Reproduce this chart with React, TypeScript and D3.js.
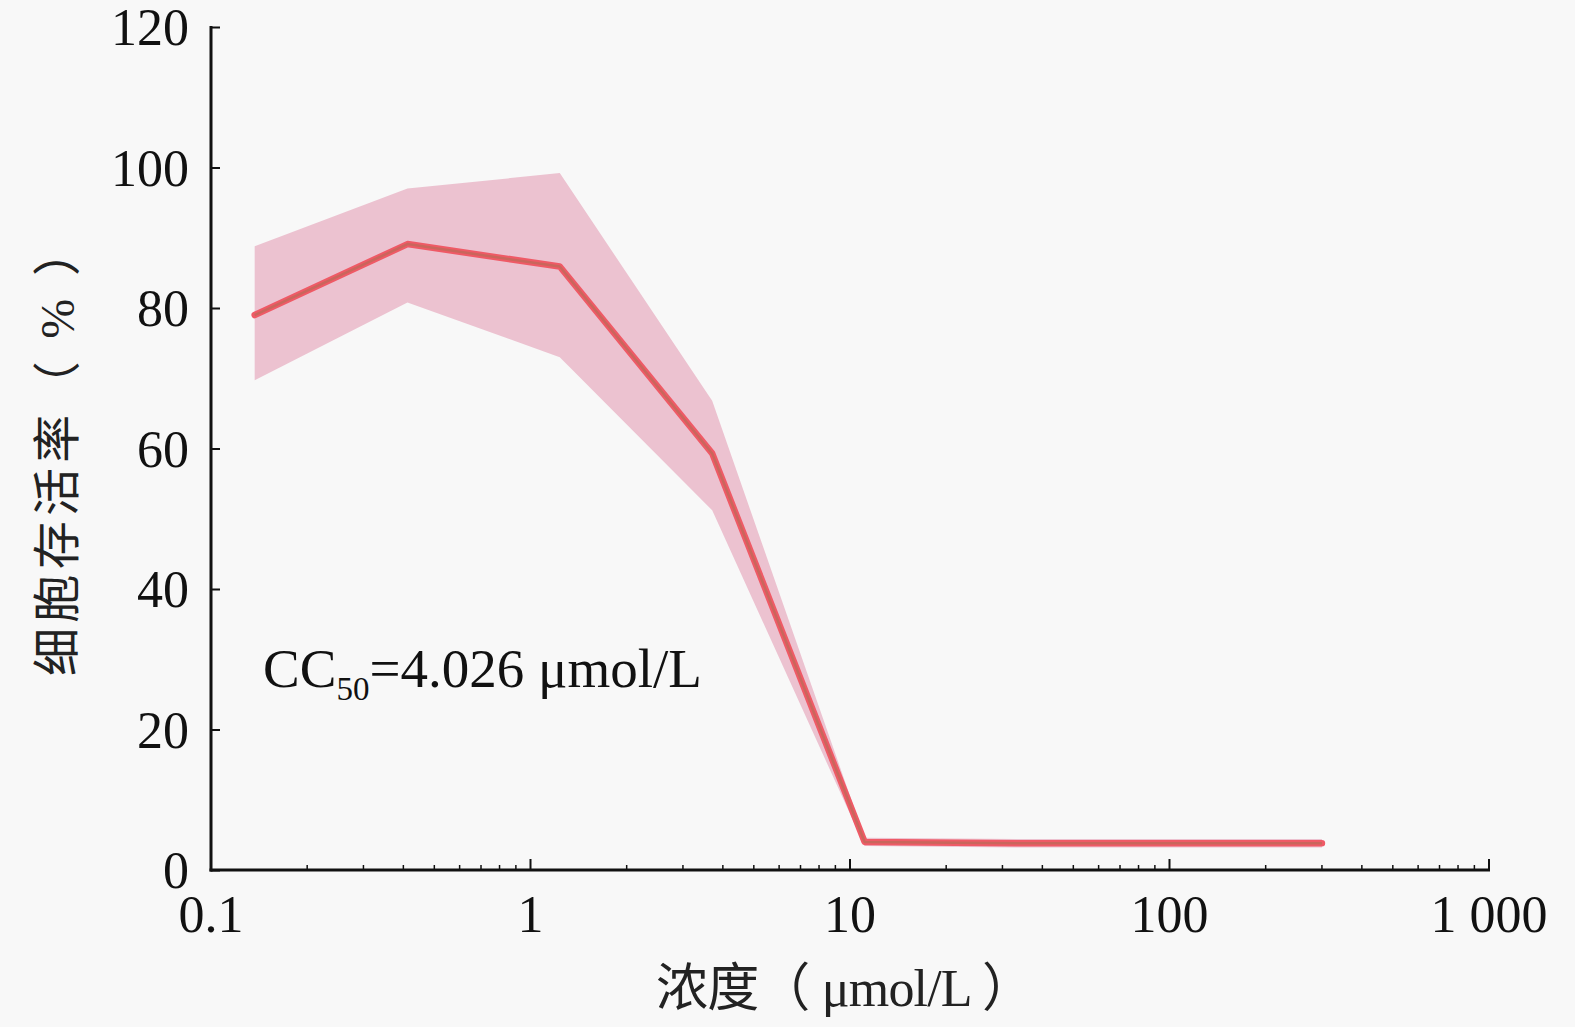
import React, { useRef, useEffect } from "react";
import * as d3 from "d3";

// concentrations (µmol/L), 3-fold dilution series
const concentrations = [0.137, 0.412, 1.235, 3.704, 11.11, 33.33, 100, 300];
const viability = [79.0, 89.1, 85.9, 59.3, 4.0, 3.8, 3.8, 3.8];
const upperBound = [88.8, 97.0, 99.2, 66.8, 4.6, 4.4, 4.4, 4.4];
const lowerBound = [69.7, 80.8, 73.0, 51.2, 3.4, 3.2, 3.2, 3.2];

const xTickValues = [0.1, 1, 10, 100, 1000];
const xTickLabels = ["0.1", "1", "10", "100", "1 000"];
const yTickValues = [0, 20, 40, 60, 80, 100, 120];

const WIDTH = 1575;
const HEIGHT = 1027;
const SERIF = "'Liberation Serif', 'Times New Roman', 'Noto Sans CJK SC', serif";

const App: React.FC = () => {
  const svgRef = useRef<SVGSVGElement>(null);

  useEffect(() => {
    const svg = d3.select(svgRef.current);
    svg.selectAll("*").remove();

    const margin = { top: 27, left: 211, right: 86, bottom: 157 };
    const x = d3
      .scaleLog()
      .domain([0.1, 1000])
      .range([margin.left, WIDTH - margin.right]);
    const y = d3
      .scaleLinear()
      .domain([0, 120])
      .range([HEIGHT - margin.bottom, margin.top]);

    const rows = concentrations.map((c, i) => ({
      c,
      v: viability[i],
      hi: upperBound[i],
      lo: lowerBound[i],
    }));

    svg
      .append("rect")
      .attr("width", WIDTH)
      .attr("height", HEIGHT)
      .attr("fill", "#f8f8f8");

    // error band
    const area = d3
      .area<any>()
      .x((d) => x(d.c))
      .y0((d) => y(d.lo))
      .y1((d) => y(d.hi));
    svg
      .append("path")
      .datum(rows)
      .attr("d", area)
      .attr("fill", "#ecc2d0");

    // mean line
    const line = d3
      .line<any>()
      .x((d) => x(d.c))
      .y((d) => y(d.v));
    svg
      .append("path")
      .datum(rows)
      .attr("d", line)
      .attr("fill", "none")
      .attr("stroke", "#ef5a66")
      .attr("stroke-width", 6.5)
      .attr("stroke-linejoin", "round")
      .attr("stroke-linecap", "round");
    svg
      .append("path")
      .datum(rows)
      .attr("d", line)
      .attr("fill", "none")
      .attr("stroke", "#c9665c")
      .attr("stroke-width", 2.5)
      .attr("stroke-linejoin", "round");

    const x0 = margin.left;
    const yBase = y(0);

    // y axis
    const yAxis = svg
      .append("g")
      .attr("transform", `translate(${x0},0)`)
      .call(
        d3
          .axisRight(y)
          .tickValues(yTickValues)
          .tickSize(9)
          .tickFormat(() => "")
      );
    yAxis.select(".domain").remove();
    yAxis.selectAll("line").attr("stroke", "#111").attr("stroke-width", 2);

    svg
      .selectAll(".ylabel")
      .data(yTickValues)
      .join("text")
      .attr("class", "ylabel")
      .attr("x", x0 - 22)
      .attr("y", (d) => y(d))
      .attr("dy", "0.35em")
      .attr("text-anchor", "end")
      .attr("font-family", SERIF)
      .attr("font-size", 52)
      .attr("fill", "#111")
      .text((d) => d);

    // x axis: minor ticks
    const minor = x.ticks().filter((t) => !xTickValues.includes(t));
    svg
      .selectAll(".xminor")
      .data(minor)
      .join("line")
      .attr("class", "xminor")
      .attr("x1", (d) => x(d))
      .attr("x2", (d) => x(d))
      .attr("y1", yBase)
      .attr("y2", yBase - 5)
      .attr("stroke", "#111")
      .attr("stroke-width", 1.5);
    svg
      .selectAll(".xmajor")
      .data(xTickValues)
      .join("line")
      .attr("class", "xmajor")
      .attr("x1", (d) => x(d))
      .attr("x2", (d) => x(d))
      .attr("y1", yBase)
      .attr("y2", yBase - 11)
      .attr("stroke", "#111")
      .attr("stroke-width", 2);

    svg
      .selectAll(".xlabel")
      .data(xTickValues)
      .join("text")
      .attr("class", "xlabel")
      .attr("x", (d) => x(d))
      .attr("y", yBase + 62)
      .attr("text-anchor", "middle")
      .attr("font-family", SERIF)
      .attr("font-size", 52)
      .attr("fill", "#111")
      .text((d, i) => xTickLabels[i]);

    // axis lines
    svg
      .append("line")
      .attr("x1", x0)
      .attr("x2", x0)
      .attr("y1", y(120) - 1)
      .attr("y2", yBase + 1.5)
      .attr("stroke", "#111")
      .attr("stroke-width", 3);
    svg
      .append("line")
      .attr("x1", x0 - 1.5)
      .attr("x2", x(1000) + 1)
      .attr("y1", yBase)
      .attr("y2", yBase)
      .attr("stroke", "#111")
      .attr("stroke-width", 3);

    // axis titles
    svg
      .append("text")
      .attr("x", 845)
      .attr("y", 1006)
      .attr("text-anchor", "middle")
      .attr("font-family", SERIF)
      .attr("font-size", 52)
      .attr("fill", "#222")
      .attr("textLength", 378)
      .attr("lengthAdjust", "spacing")
      .text("浓度（ μmol/L ）");

    svg
      .append("text")
      .attr("transform", `translate(74,452) rotate(-90)`)
      .attr("text-anchor", "middle")
      .attr("font-family", SERIF)
      .attr("font-size", 48)
      .attr("fill", "#222")
      .attr("textLength", 448)
      .attr("lengthAdjust", "spacing")
      .text("细胞存活率（ % ）");

    // annotation
    const note = svg
      .append("text")
      .attr("x", 263)
      .attr("y", 687)
      .attr("font-family", SERIF)
      .attr("font-size", 55)
      .attr("fill", "#111");
    note.append("tspan").text("CC");
    note
      .append("tspan")
      .attr("font-size", 33)
      .attr("dy", 13)
      .text("50");
    note.append("tspan").attr("dy", -13).text("=4.026 μmol/L");
  }, []);

  return (
    <svg
      ref={svgRef}
      width={WIDTH}
      height={HEIGHT}
      style={{ position: "absolute", left: 0, top: 0, display: "block" }}
    />
  );
};

export default App;
